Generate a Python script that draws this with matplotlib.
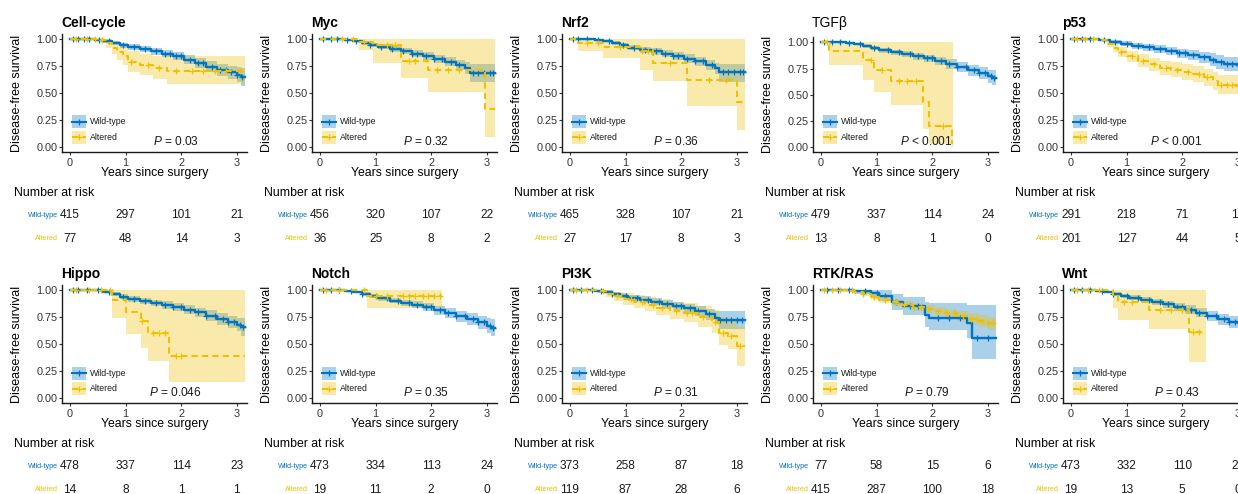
import matplotlib

matplotlib.use("Agg")
import matplotlib.pyplot as plt
import matplotlib.transforms as mtransforms
from matplotlib.lines import Line2D
from matplotlib.patches import Rectangle
import numpy as np

plt.rcParams["font.family"] = ["Liberation Sans", "DejaVu Sans"]
plt.rcParams["mathtext.fontset"] = "custom"
plt.rcParams["mathtext.it"] = "Liberation Sans:italic"
plt.rcParams["mathtext.rm"] = "Liberation Sans"

# ---- data: KM steps as [time, surv, lower, upper] ----
PATHWAYS = ["Cell-cycle", "Myc", "Nrf2", "TGFβ", "p53",
            "Hippo", "Notch", "PI3K", "RTK/RAS", "Wnt"]
P_TEXT = ["= 0.03", "= 0.32", "= 0.36", "< 0.001", "< 0.001",
          "= 0.046", "= 0.35", "= 0.31", "= 0.79", "= 0.43"]
RISK_TIMES = [0, 1, 2, 3]
RISK_WT = [[415, 297, 101, 21], [456, 320, 107, 22], [465, 328, 107, 21],
           [479, 337, 114, 24], [291, 218, 71, 19], [478, 337, 114, 23],
           [473, 334, 113, 24], [373, 258, 87, 18], [77, 58, 15, 6],
           [473, 332, 110, 24]]
RISK_ALT = [[77, 48, 14, 3], [36, 25, 8, 2], [27, 17, 8, 3], [13, 8, 1, 0],
            [201, 127, 44, 5], [14, 8, 1, 1], [19, 11, 2, 0], [119, 87, 28, 6],
            [415, 287, 100, 18], [19, 13, 5, 0]]

CELLCYCLE_WT = [[0, 1, 1, 1], [0.45, .995, .988, 1], [0.60, .980, .966, .994],
                [0.75, .960, .942, .978], [0.90, .940, .918, .962], [1.05, .925, .900, .950],
                [1.25, .905, .877, .933], [1.45, .885, .854, .916], [1.65, .865, .831, .899],
                [1.85, .840, .802, .878], [2.05, .810, .768, .852], [2.25, .780, .733, .827],
                [2.45, .745, .693, .797], [2.65, .715, .658, .772], [2.85, .690, .628, .752],
                [3.00, .665, .598, .740], [3.08, .645, .565, .735], [3.15, .645, .565, .735]]
CELLCYCLE_ALT = [[0, 1, 1, 1], [0.55, .987, .961, 1], [0.65, .960, .917, 1],
                 [0.75, .920, .862, .982], [0.85, .880, .809, .957], [0.95, .840, .760, .928],
                 [1.05, .787, .690, .885], [1.25, .760, .665, .865], [1.50, .733, .630, .845],
                 [1.75, .705, .580, .840], [3.15, .705, .580, .840]]
MYC_WT = [[0, 1, 1, 1], [0.45, .995, .988, 1], [0.60, .982, .969, .995],
          [0.75, .965, .948, .982], [0.90, .945, .924, .966], [1.05, .928, .904, .952],
          [1.25, .908, .881, .935], [1.45, .888, .858, .918], [1.65, .865, .832, .898],
          [1.85, .840, .803, .877], [2.05, .815, .775, .855], [2.25, .790, .746, .834],
          [2.45, .760, .711, .809], [2.60, .730, .676, .784], [2.70, .688, .605, .771],
          [3.15, .688, .605, .771]]
MYC_ALT = [[0, 1, 1, 1], [0.70, .971, .900, 1], [0.95, .940, .780, 1],
           [1.45, .800, .640, 1], [1.95, .712, .510, 1], [2.97, .356, .090, 1],
           [3.15, .356, .090, 1]]
NRF2_WT = [[0, 1, 1, 1], [0.45, .995, .988, 1], [0.60, .982, .969, .995],
           [0.75, .962, .945, .979], [0.90, .940, .918, .962], [1.05, .920, .895, .945],
           [1.25, .902, .874, .930], [1.45, .885, .855, .915], [1.65, .865, .832, .898],
           [1.85, .842, .805, .879], [2.05, .818, .778, .858], [2.25, .792, .748, .836],
           [2.45, .760, .711, .809], [2.60, .728, .674, .782], [2.68, .690, .600, .770],
           [3.15, .690, .600, .770]]
NRF2_ALT = [[0, 1, 1, 1], [0.15, .963, .890, 1], [0.60, .926, .828, 1],
            [1.25, .885, .715, 1], [1.50, .780, .610, 1], [2.10, .625, .380, 1],
            [3.00, .417, .160, 1], [3.15, .417, .160, 1]]
TGFB_WT = [[0, 1, 1, 1], [0.45, .996, .990, 1], [0.60, .984, .972, .996],
           [0.75, .966, .950, .982], [0.90, .945, .925, .965], [1.05, .925, .901, .949],
           [1.25, .905, .878, .932], [1.45, .887, .857, .917], [1.65, .868, .835, .901],
           [1.85, .848, .812, .884], [2.05, .822, .782, .862], [2.25, .795, .751, .839],
           [2.45, .765, .717, .813], [2.65, .735, .683, .787], [2.85, .705, .648, .762],
           [3.00, .678, .615, .741], [3.08, .665, .595, .735], [3.15, .665, .595, .735]]
TGFB_ALT = [[0, 1, 1, 1], [0.15, .915, .785, 1], [0.76, .835, .640, 1],
            [0.95, .740, .530, 1], [1.26, .630, .400, 1], [1.84, .430, .170, 1],
            [1.94, .200, .030, 1], [2.35, .040, .000, 1], [2.38, .040, .000, 1]]
P53_WT = [[0, 1, 1, 1], [0.50, .993, .983, 1], [0.70, .975, .957, .993],
          [0.90, .955, .931, .979], [1.10, .938, .910, .966], [1.30, .922, .890, .954],
          [1.50, .905, .869, .941], [1.70, .888, .848, .928], [1.90, .868, .824, .912],
          [2.10, .850, .802, .898], [2.30, .830, .777, .883], [2.50, .808, .750, .866],
          [2.60, .785, .722, .848], [2.75, .770, .703, .837], [3.00, .762, .693, .831],
          [3.15, .762, .693, .831]]
P53_ALT = [[0, 1, 1, 1], [0.55, .990, .976, 1], [0.65, .955, .926, .984],
           [0.75, .915, .876, .954], [0.85, .880, .834, .926], [1.00, .840, .788, .892],
           [1.20, .800, .743, .857], [1.40, .765, .704, .826], [1.60, .735, .670, .800],
           [1.80, .715, .647, .783], [2.00, .695, .625, .765], [2.20, .675, .602, .748],
           [2.40, .645, .568, .722], [2.55, .612, .530, .694], [2.65, .578, .492, .664],
           [3.00, .565, .476, .654], [3.15, .565, .476, .654]]
HIPPO_WT = [[0, 1, 1, 1], [0.45, .996, .990, 1], [0.60, .982, .970, .994],
            [0.75, .960, .943, .977], [0.90, .937, .915, .959], [1.05, .915, .889, .941],
            [1.25, .898, .869, .927], [1.45, .880, .849, .911], [1.65, .862, .828, .896],
            [1.85, .842, .805, .879], [2.05, .818, .778, .858], [2.25, .792, .748, .836],
            [2.45, .762, .713, .811], [2.65, .732, .679, .785], [2.85, .702, .644, .760],
            [3.00, .680, .618, .742], [3.08, .660, .575, .745], [3.15, .660, .575, .745]]
HIPPO_ALT = [[0, 1, 1, 1], [0.75, .910, .740, 1], [1.00, .800, .590, 1],
             [1.27, .715, .460, 1], [1.40, .600, .340, 1], [1.78, .390, .150, 1],
             [3.15, .390, .150, 1]]
NOTCH_WT = [[0, 1, 1, 1], [0.45, .995, .988, 1], [0.60, .982, .970, .994],
            [0.75, .963, .946, .980], [0.90, .943, .922, .964], [1.05, .922, .898, .946],
            [1.25, .902, .875, .929], [1.45, .882, .852, .912], [1.65, .862, .829, .895],
            [1.85, .838, .801, .875], [2.05, .812, .772, .852], [2.25, .785, .740, .830],
            [2.45, .757, .707, .807], [2.65, .728, .673, .783], [2.85, .700, .640, .760],
            [3.00, .670, .603, .737], [3.08, .650, .570, .730], [3.15, .650, .570, .730]]
NOTCH_ALT = [[0, 1, 1, 1], [0.85, .947, .830, 1], [2.20, .947, .830, 1]]
PI3K_WT = [[0, 1, 1, 1], [0.45, .995, .987, 1], [0.60, .983, .970, .996],
           [0.75, .965, .947, .983], [0.90, .945, .922, .968], [1.05, .928, .902, .954],
           [1.25, .910, .880, .940], [1.45, .890, .857, .923], [1.65, .872, .836, .908],
           [1.85, .852, .813, .891], [2.05, .830, .787, .873], [2.25, .805, .758, .852],
           [2.45, .775, .723, .827], [2.60, .745, .688, .802], [2.68, .722, .640, .810],
           [3.15, .722, .640, .810]]
PI3K_ALT = [[0, 1, 1, 1], [0.50, .992, .975, 1], [0.65, .966, .934, .999],
            [0.80, .940, .898, .984], [0.95, .915, .865, .968], [1.15, .890, .833, .951],
            [1.35, .865, .801, .934], [1.55, .835, .764, .913], [1.80, .808, .731, .893],
            [2.05, .785, .703, .876], [2.30, .752, .662, .855], [2.55, .700, .599, .818],
            [2.68, .600, .490, .750], [2.85, .570, .450, .725], [3.00, .480, .300, .660],
            [3.15, .480, .300, .660]]
RTK_WT = [[0, 1, 1, 1], [0.60, .987, .962, 1], [0.90, .970, .932, 1],
          [1.05, .945, .895, .998], [1.27, .885, .815, .961], [1.48, .850, .770, .938],
          [1.87, .770, .660, .890], [1.95, .740, .630, .880], [2.62, .690, .560, .860],
          [2.71, .555, .360, .860], [3.15, .555, .360, .860]]
RTK_ALT = [[0, 1, 1, 1], [0.45, .996, .990, 1], [0.60, .982, .969, .995],
           [0.75, .962, .944, .980], [0.90, .935, .912, .958], [1.05, .908, .881, .935],
           [1.25, .885, .855, .915], [1.45, .862, .829, .895], [1.65, .842, .806, .878],
           [1.85, .822, .783, .861], [2.05, .803, .761, .845], [2.25, .783, .738, .828],
           [2.45, .758, .709, .807], [2.65, .730, .676, .784], [2.85, .712, .654, .770],
           [3.00, .690, .626, .754], [3.15, .690, .626, .754]]
WNT_WT = [[0, 1, 1, 1], [0.45, .995, .988, 1], [0.60, .983, .971, .995],
          [0.75, .965, .948, .982], [0.90, .945, .924, .966], [1.05, .927, .903, .951],
          [1.25, .908, .881, .935], [1.45, .888, .858, .918], [1.65, .867, .834, .900],
          [1.85, .845, .808, .882], [2.05, .818, .778, .858], [2.25, .790, .746, .834],
          [2.45, .760, .712, .808], [2.65, .730, .678, .782], [2.85, .705, .649, .761],
          [3.00, .690, .630, .750], [3.15, .690, .630, .750]]
WNT_ALT = [[0, 1, 1, 1], [0.75, .947, .830, 1], [0.85, .889, .720, 1],
           [1.40, .815, .635, 1], [2.12, .611, .330, 1], [2.42, .611, .330, 1]]

# censoring times (tick marks)
CELLCYCLE_WT_CENS = [0.05, 0.15, 0.25, 0.35, 0.52, 0.7, 0.95, 1.15, 1.35, 1.55, 1.7, 1.8,
                     1.9, 2.0, 2.15, 2.3, 2.4, 2.55, 2.7, 2.8, 2.9, 3.0, 3.1]
CELLCYCLE_ALT_CENS = [0.1, 0.3, 0.45, 0.58, 1.1, 1.4, 1.6, 1.9, 2.2, 2.4, 2.6, 2.8, 3.05]
MYC_WT_CENS = [0.05, 0.2, 0.3, 0.48, 0.65, 0.9, 1.1, 1.3, 1.5, 1.65, 1.75, 1.9, 2.05,
               2.2, 2.35, 2.5, 2.75, 2.85, 2.95, 3.05, 3.12]
MYC_ALT_CENS = [0.4, 0.6, 0.8, 1.2, 1.35, 1.6, 1.7, 2.1, 2.3, 2.5]
NRF2_WT_CENS = [0.05, 0.15, 0.3, 0.5, 0.7, 0.95, 1.15, 1.35, 1.55, 1.7, 1.85, 1.95, 2.1,
                2.25, 2.4, 2.55, 2.75, 2.85, 2.95, 3.05, 3.12]
NRF2_ALT_CENS = [0.3, 0.5, 0.9, 1.3, 1.4, 1.8, 2.5, 2.8]
TGFB_WT_CENS = [0.05, 0.2, 0.35, 0.5, 0.7, 0.95, 1.2, 1.4, 1.6, 1.75, 1.9, 2.0, 2.15,
                2.3, 2.45, 2.6, 2.75, 2.85, 2.95, 3.05, 3.12]
TGFB_ALT_CENS = [0.1, 0.9, 1.1, 1.4, 1.55, 1.7, 2.2]
P53_WT_CENS = [0.05, 0.2, 0.35, 0.6, 0.8, 1.0, 1.2, 1.4, 1.6, 1.8, 1.95, 2.05, 2.2, 2.4,
               2.55, 2.7, 2.8, 2.9, 3.0]
P53_ALT_CENS = [0.1, 0.25, 0.4, 0.9, 1.1, 1.3, 1.5, 1.7, 1.9, 2.1, 2.3, 2.45, 2.7, 2.8, 2.9, 3.0]
HIPPO_WT_CENS = [0.05, 0.15, 0.3, 0.5, 0.7, 0.95, 1.15, 1.35, 1.55, 1.7, 1.85, 2.0, 2.15,
                 2.3, 2.45, 2.6, 2.75, 2.85, 2.95, 3.05, 3.12]
HIPPO_ALT_CENS = [0.1, 0.35, 0.55, 0.72, 1.3, 1.5, 1.6, 1.7, 1.9, 2.0]
NOTCH_WT_CENS = [0.05, 0.2, 0.35, 0.55, 0.75, 1.0, 1.2, 1.4, 1.6, 1.75, 1.9, 2.0, 2.15,
                 2.3, 2.45, 2.6, 2.75, 2.85, 2.95, 3.05, 3.12]
NOTCH_ALT_CENS = [0.1, 0.35, 0.8, 1.0, 1.2, 1.5, 1.6, 1.7, 1.85, 1.95, 2.05, 2.15]
PI3K_WT_CENS = [0.05, 0.2, 0.4, 0.55, 0.75, 1.0, 1.2, 1.4, 1.6, 1.75, 1.9, 2.0, 2.15,
                2.3, 2.5, 2.7, 2.8, 2.9, 3.0, 3.1]
PI3K_ALT_CENS = [0.1, 0.3, 0.6, 0.85, 1.1, 1.3, 1.5, 1.65, 1.9, 2.1, 2.2, 2.4, 2.6, 2.75,
                 2.9, 3.05]
RTK_WT_CENS = [0.1, 0.3, 0.5, 0.8, 1.0, 1.15, 1.35, 1.6, 1.75, 2.1, 2.3, 2.5, 2.8, 3.0]
RTK_ALT_CENS = [0.05, 0.2, 0.35, 0.55, 0.75, 0.95, 1.15, 1.35, 1.5, 1.65, 1.8, 1.95, 2.1,
                2.25, 2.4, 2.55, 2.7, 2.8, 2.9, 3.0, 3.1]
WNT_WT_CENS = [0.05, 0.2, 0.35, 0.55, 0.75, 1.0, 1.2, 1.4, 1.6, 1.75, 1.9, 2.0, 2.15,
               2.3, 2.45, 2.6, 2.75, 2.85, 2.95, 3.05, 3.12]
WNT_ALT_CENS = [0.1, 0.3, 0.5, 0.95, 1.1, 1.6, 1.8, 2.0, 2.2, 2.3]

CURVES = [
    (CELLCYCLE_WT, CELLCYCLE_WT_CENS, CELLCYCLE_ALT, CELLCYCLE_ALT_CENS),
    (MYC_WT, MYC_WT_CENS, MYC_ALT, MYC_ALT_CENS),
    (NRF2_WT, NRF2_WT_CENS, NRF2_ALT, NRF2_ALT_CENS),
    (TGFB_WT, TGFB_WT_CENS, TGFB_ALT, TGFB_ALT_CENS),
    (P53_WT, P53_WT_CENS, P53_ALT, P53_ALT_CENS),
    (HIPPO_WT, HIPPO_WT_CENS, HIPPO_ALT, HIPPO_ALT_CENS),
    (NOTCH_WT, NOTCH_WT_CENS, NOTCH_ALT, NOTCH_ALT_CENS),
    (PI3K_WT, PI3K_WT_CENS, PI3K_ALT, PI3K_ALT_CENS),
    (RTK_WT, RTK_WT_CENS, RTK_ALT, RTK_ALT_CENS),
    (WNT_WT, WNT_WT_CENS, WNT_ALT, WNT_ALT_CENS),
]

BLUE = "#0073C2"
YELLOW = "#EFC000"
BAND_ALPHA = 0.33
DASH = (0, (3, 2))

# layout in pixels
W, H = 1238, 494
COL_X = [0, 250, 500, 751, 1001]
ROW_Y = [0, 251]


def fx(x):
    return x / W


def fy(y):
    return 1 - y / H


fig = plt.figure(figsize=(W / 100, H / 100), dpi=100)

for i, name in enumerate(PATHWAYS):
    ox = COL_X[i % 5]
    oy = ROW_Y[i // 5]
    y_one = 42.5 if name == "TGFβ" else 39.0
    y_zero = 147.0
    ppu = y_zero - y_one
    top = y_one - 0.05 * ppu
    bottom = y_zero + 0.05 * ppu
    ax = fig.add_axes([fx(ox + 62), fy(oy + bottom), 185 / W, (bottom - top) / H])

    wt, wt_c, alt, alt_c = CURVES[i]
    t, s, lo, hi = np.array(wt).T
    ax.fill_between(t, lo, hi, step="post", color=BLUE, alpha=BAND_ALPHA, lw=0)
    t2, s2, lo2, hi2 = np.array(alt).T
    ax.fill_between(t2, lo2, hi2, step="post", color=YELLOW, alpha=BAND_ALPHA, lw=0)
    ax.step(t, s, where="post", color=BLUE, lw=1.7)
    idx = np.searchsorted(t, wt_c, side="right") - 1
    ax.plot(wt_c, s[idx], ls="none", marker="+", ms=4.5, mew=0.9, color=BLUE)
    ax.step(t2, s2, where="post", color=YELLOW, lw=1.5, ls=DASH)
    idx2 = np.searchsorted(t2, alt_c, side="right") - 1
    ax.plot(alt_c, s2[idx2], ls="none", marker="+", ms=4.5, mew=0.9, color=YELLOW)

    ax.set_xlim(-0.144, 3.183)
    ax.set_ylim(-0.05, 1.05)
    ax.set_xticks([0, 1, 2, 3])
    ax.set_yticks([0, 0.25, 0.5, 0.75, 1.0])
    ax.set_yticklabels(["0.00", "0.25", "0.50", "0.75", "1.00"])
    for side in ["top", "right"]:
        ax.spines[side].set_visible(False)
    for side in ["left", "bottom"]:
        ax.spines[side].set_linewidth(1.0)
        ax.spines[side].set_color("#1a1a1a")
    ax.tick_params(axis="both", direction="out", length=2.3, width=0.8, color="#333333",
                   labelsize=7.8, labelcolor="#333333")
    ax.tick_params(axis="y", pad=0.8)
    ax.tick_params(axis="x", pad=1.5)
    ax.set_facecolor("none")

    ax.text(1.9, 0.05, r"$\mathit{P}$ " + P_TEXT[i], ha="center", va="center",
            fontsize=8.6, color="#1a1a1a")

    # legend keys
    for label, col, ls, yc in [("Wild-type", BLUE, "-", 122.0),
                               ("Altered", YELLOW, DASH, 137.5)]:
        fig.add_artist(Rectangle((fx(ox + 72), fy(oy + yc + 6.5)), 14 / W, 13 / H,
                                 transform=fig.transFigure, facecolor=col,
                                 alpha=BAND_ALPHA, lw=0))
        fig.add_artist(Line2D([fx(ox + 72), fx(ox + 86)], [fy(oy + yc)] * 2,
                              transform=fig.transFigure, color=col, lw=1.5, ls=ls))
        fig.add_artist(Line2D([fx(ox + 79)], [fy(oy + yc)], transform=fig.transFigure,
                              color=col, marker="+", ms=4.5, mew=0.9, ls="none"))
        fig.text(fx(ox + 90), fy(oy + yc), label, fontsize=6.3, va="center", ha="left",
                 color="#1a1a1a")

    # title and axis labels
    fig.text(fx(ox + 61), fy(oy + 27), name, fontsize=10, va="baseline", ha="left",
             fontweight="normal" if name == "TGFβ" else "bold", color="black")
    fig.text(fx(ox + 17), fy(oy + (top + bottom) / 2), "Disease-free survival",
             rotation=90, fontsize=9, ha="center", va="center", color="black")
    fig.text(fx(ox + 154.5), fy(oy + 173), "Years since surgery", fontsize=8.8,
             ha="center", va="center", color="black")

    # number at risk table
    fig.text(fx(ox + 14), fy(oy + 193), "Number at risk", fontsize=8.8, ha="left",
             va="center", color="black")
    tr = mtransforms.blended_transform_factory(ax.transData, fig.transFigure)
    for label, col, counts, yc in [("Wild-type", BLUE, RISK_WT[i], 215.0),
                                   ("Altered", YELLOW, RISK_ALT[i], 238.5)]:
        fig.text(fx(ox + 58), fy(oy + yc), label, fontsize=5.2, ha="right", va="center",
                 color=col)
        for tt, n in zip(RISK_TIMES, counts):
            ax.text(tt, fy(oy + yc), str(n), transform=tr, fontsize=8.6, ha="center",
                    va="center", color="#1a1a1a", clip_on=False)

fig.savefig("out.png", dpi=100, facecolor="white")
